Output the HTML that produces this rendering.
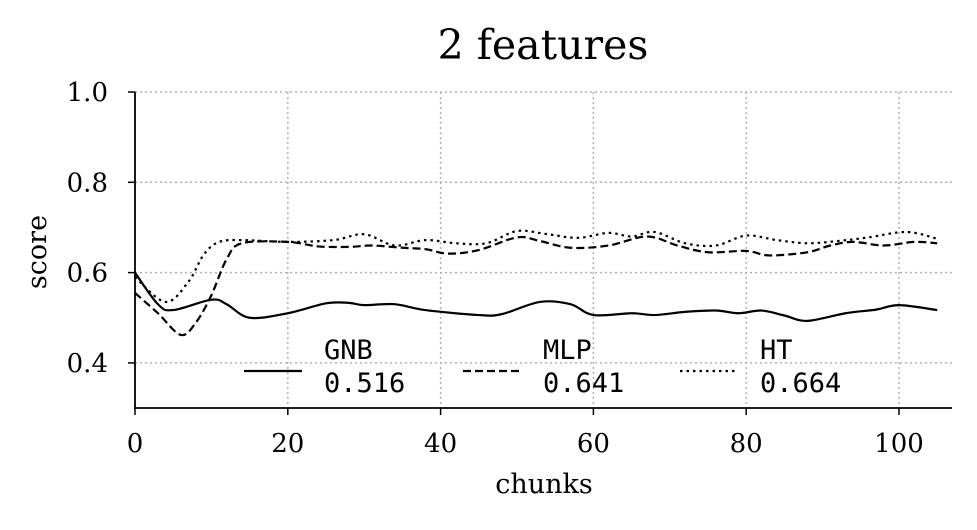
<!DOCTYPE html>
<html><head><meta charset="utf-8"><style>
body{margin:0;background:#fff}
svg text{font-family:"DejaVu Serif","Liberation Serif",serif;fill:#000}
.mono{font-family:"DejaVu Sans Mono","Liberation Mono",monospace}
</style></head><body>
<svg id="chart" width="977" height="525">
<text x="543" y="59" font-size="41" text-anchor="middle">2 features</text>
<g id="grid"></g><g id="axes"></g><g id="series"></g><g id="legend"></g>
<text x="544" y="493" font-size="27" text-anchor="middle">chunks</text>
<text transform="translate(46,252) rotate(-90)" font-size="27" text-anchor="middle">score</text>
</svg>
<script>
const xTicks=[0,20,40,60,80,100];
const yTicks=[0.4,0.6,0.8,1.0];
const seriesNames=["GNB","MLP","HT"];
const seriesMeans=["0.516","0.641","0.664"];
const gnbX=[0,3,5,10,12,15,20,25,28,30,34,38,45,48,53,57,60,65,68,72,76,79,82,85,88,93,97,100,105];
const gnbY=[0.60,0.53,0.517,0.54,0.53,0.50,0.51,0.532,0.533,0.528,0.53,0.517,0.506,0.508,0.535,0.53,0.506,0.51,0.506,0.513,0.516,0.51,0.516,0.505,0.493,0.51,0.518,0.528,0.517];
const mlpX=[0,3,6,8,10,12,14,20,24,28,31,35,38,41,45,50,53,57,62,67,71,75,80,83,88,91,94,98,102,105];
const mlpY=[0.555,0.51,0.462,0.49,0.55,0.63,0.665,0.668,0.658,0.657,0.66,0.655,0.652,0.642,0.65,0.678,0.67,0.655,0.66,0.68,0.66,0.645,0.648,0.638,0.645,0.66,0.668,0.66,0.668,0.665];
const htX=[0,4,7,9,11,14,20,26,30,34,38,42,46,50,54,58,62,65,68,72,76,80,84,88,92,96,101,105];
const htY=[0.59,0.535,0.58,0.64,0.668,0.672,0.668,0.672,0.685,0.66,0.672,0.665,0.665,0.692,0.685,0.677,0.688,0.68,0.69,0.665,0.66,0.682,0.672,0.665,0.67,0.678,0.69,0.675];
const NS="http://www.w3.org/2000/svg";
const X=v=>135+v*7.64, Y=v=>92+(1.0-v)*451.5;
function mk(t,a,p){const e=document.createElementNS(NS,t);for(const k in a)e.setAttribute(k,a[k]);p.appendChild(e);return e;}
const grid=document.getElementById('grid'),axes=document.getElementById('axes');
xTicks.forEach(t=>{
 if(t>0){const g=mk('line',{x1:X(t),x2:X(t),y1:92,y2:408,stroke:'#b0b0b0','stroke-dasharray':'2,3','stroke-width':1.5},grid);
 
 }
 const tk=mk('line',{x1:X(t),x2:X(t),y1:408,y2:415,stroke:'#000','stroke-width':1.5},axes);
 
 
 const l=mk('text',{x:X(t),y:452,'font-size':26,'text-anchor':'middle'},axes);l.textContent=t;
 
 
});
yTicks.forEach(t=>{
 const g=mk('line',{x1:135,x2:952,y1:Y(t),y2:Y(t),stroke:'#b0b0b0','stroke-dasharray':'2,3','stroke-width':1.5},grid);
 
 
 const tk=mk('line',{x1:128,x2:135,y1:Y(t),y2:Y(t),stroke:'#000','stroke-width':1.5},axes);
 
 
 const l=mk('text',{x:108,y:Y(t)+9,'font-size':26,'text-anchor':'end'},axes);l.textContent=t.toFixed(1);
 
 
});
const ax=mk('path',{d:'M135,92 V408 H952',fill:'none',stroke:'#000','stroke-width':1.8},axes);


function smooth(xs,ys){const p=xs.map((x,i)=>[X(x),Y(ys[i])]);let d=`M${p[0][0]},${p[0][1]}`;
 for(let i=0;i<p.length-1;i++){const p0=p[Math.max(i-1,0)],p1=p[i],p2=p[i+1],p3=p[Math.min(i+2,p.length-1)];
 d+=` C${p1[0]+(p2[0]-p0[0])/6},${p1[1]+(p2[1]-p0[1])/6} ${p2[0]-(p3[0]-p1[0])/6},${p2[1]-(p3[1]-p1[1])/6} ${p2[0]},${p2[1]}`;}return d;}
const dashes=["", "8,4", "2.5,4"];
const sg=document.getElementById('series');
[[gnbX,gnbY],[mlpX,mlpY],[htX,htY]].forEach((s,i)=>{
 const p=mk('path',{d:smooth(s[0],s[1]),fill:'none',stroke:'#000','stroke-width':2.2,'stroke-dasharray':dashes[i]},sg);
 
 
});
const lg=document.getElementById('legend');
const lx=[244,463,680];
seriesNames.forEach((n,i)=>{
 const l=mk('line',{x1:lx[i],x2:lx[i]+58,y1:371,y2:371,stroke:'#000','stroke-width':2.2,'stroke-dasharray':dashes[i]},lg);
 
 
 const t=mk('text',{x:lx[i]+80,y:359,'font-size':27,class:'mono'},lg);t.textContent=n;
 
 
 const v=mk('text',{x:lx[i]+80,y:392,'font-size':27,class:'mono'},lg);v.textContent=seriesMeans[i];
 
 
});
</script>
</body></html>
